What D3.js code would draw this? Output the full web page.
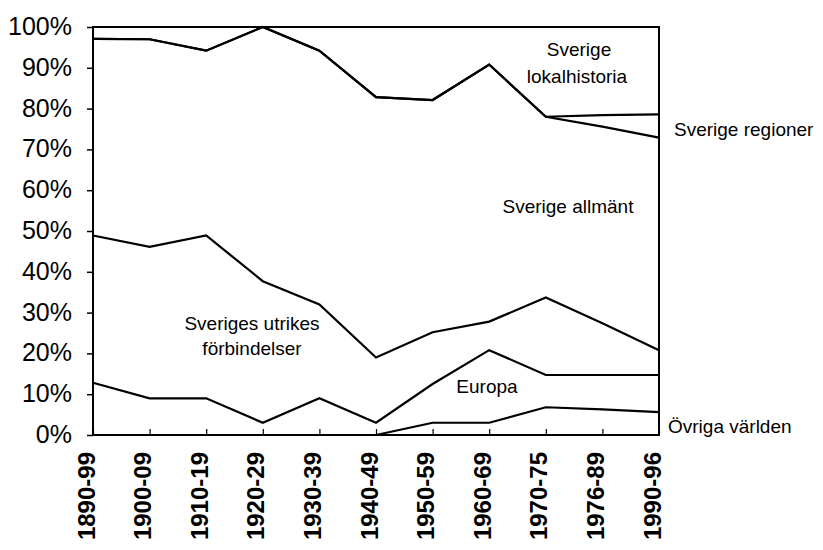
<!DOCTYPE html>
<html>
<head>
<meta charset="utf-8">
<script src="https://cdn.jsdelivr.net/npm/d3@7"></script>
<style>
  html, body { margin: 0; padding: 0; background: #fff; }
  svg { display: block; }
  text { font-family: "Liberation Sans", Arial, sans-serif; fill: #000; }
</style>
</head>
<body>
<svg id="chart" width="823" height="550"></svg>
<script>
// ---- data ----
const categories = ["1890-99","1900-09","1910-19","1920-29","1930-39","1940-49","1950-59","1960-69","1970-75","1976-89","1990-96"];
const ovrigaVarlden   = [0, 0, 0, 0, 0, 0, 3, 3, 6.8, 6.3, 5.6];
const europa          = [12.8, 9, 9, 3, 9, 3, 9.5, 17.8, 7.9, 8.4, 9.1];
const utrikes         = [36.1, 37.1, 39.9, 34.7, 23, 16, 12.7, 7, 19, 12.7, 6.1];
const sverigeAllmant  = [48.2, 50.9, 45.3, 62.3, 62.2, 63.8, 56.9, 63, 44.3, 48.2, 52.1];
const sverigeRegioner = [0, 0, 0, 0, 0, 0, 0, 0, 0, 2.8, 5.7];
const lokalhistoria   = [2.9, 3, 5.8, 0, 5.8, 17.2, 17.9, 9.2, 22, 21.6, 21.4];
const yTicks = [0, 10, 20, 30, 40, 50, 60, 70, 80, 90, 100];

const seriesKeys = ["ovriga","europa","utrikes","allmant","regioner","lokal"];
const seriesArrays = {ovriga: ovrigaVarlden, europa: europa, utrikes: utrikes, allmant: sverigeAllmant, regioner: sverigeRegioner, lokal: lokalhistoria};
const table = categories.map((c, i) => {
  const row = {cat: c};
  seriesKeys.forEach(k => row[k] = seriesArrays[k][i]);
  return row;
});

// ---- layout ----
const svg = d3.select("#chart");
const m = {left: 93, right: 823 - 659, top: 27, bottom: 550 - 435};
const W = 823 - m.left - m.right, H = 550 - m.top - m.bottom;

const x = d3.scalePoint().domain(categories).range([m.left, m.left + W]);
const y = d3.scaleLinear().domain([0, 100]).range([m.top + H, m.top]);

const stacked = d3.stack().keys(seriesKeys)(table);

// frame
svg.append("rect")
  .attr("x", m.left).attr("y", m.top).attr("width", W).attr("height", H)
  .attr("fill", "none").attr("stroke", "#000").attr("stroke-width", 2);

// y axis
const yAxis = svg.append("g").attr("transform", `translate(${m.left},0)`)
  .call(d3.axisLeft(y).tickValues(yTicks).tickSize(6).tickFormat(d => d + "%"));
yAxis.select(".domain").remove();
yAxis.selectAll("line").attr("stroke", "#000").attr("stroke-width", 1.5);
yAxis.selectAll("text")
  .attr("x", -21).attr("dy", "0.3em")
  .style("font-size", "25px").style("font-family", "'Liberation Sans', Arial, sans-serif");

// x axis
const xAxis = svg.append("g").attr("transform", `translate(0,${m.top + H})`)
  .call(d3.axisBottom(x).tickSize(-6).tickPadding(0));
xAxis.select(".domain").remove();
xAxis.selectAll("line").attr("stroke", "#000").attr("stroke-width", 1.2);
xAxis.selectAll("text")
  .attr("transform", "rotate(-90)")
  .attr("x", -17).attr("y", 0).attr("dy", "0.0em")
  .attr("dx", 0)
  .style("text-anchor", "end")
  .style("font-size", "24px")
  .style("font-weight", "bold")
  .style("font-family", "'Liberation Sans', Arial, sans-serif")
  .each(function() { d3.select(this).attr("dy", null).attr("y", null); })
  .attr("y", 1);

// lines (top of each stacked layer, except the last which equals 100%)
const line = d3.line().x(d => x(d.data.cat)).y(d => y(d[1]));
svg.append("g").selectAll("path")
  .data(stacked.slice(0, stacked.length - 1))
  .join("path")
  .attr("d", d => line(d))
  .attr("fill", "none")
  .attr("stroke", "#000")
  .attr("stroke-width", 2.2)
  .attr("stroke-linejoin", "miter");

// labels
const labels = [
  {t: "Sverige", x: 579, y: 56, a: "middle"},
  {t: "lokalhistoria", x: 577, y: 83, a: "middle"},
  {t: "Sverige regioner", x: 674, y: 136, a: "start"},
  {t: "Sverige allmänt", x: 568, y: 213, a: "middle"},
  {t: "Sveriges utrikes", x: 252, y: 330, a: "middle"},
  {t: "förbindelser", x: 252, y: 355, a: "middle"},
  {t: "Europa", x: 487, y: 393, a: "middle"},
  {t: "Övriga världen", x: 668, y: 433, a: "start"}
];
svg.append("g").selectAll("text").data(labels).join("text")
  .attr("x", d => d.x).attr("y", d => d.y)
  .attr("text-anchor", d => d.a)
  .style("font-size", "19px")
  .text(d => d.t);
</script>
</body>
</html>
